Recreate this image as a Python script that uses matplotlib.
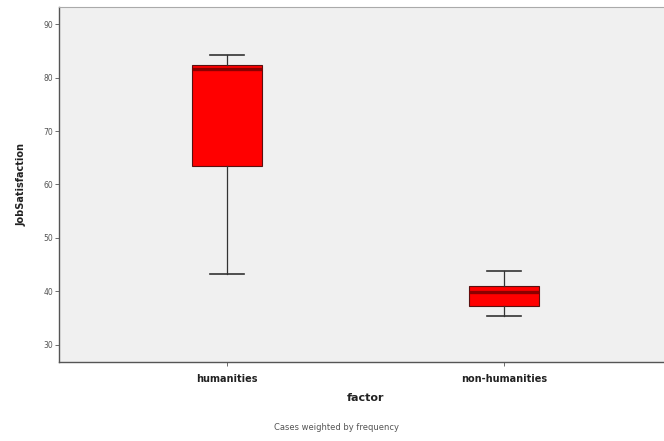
import matplotlib
matplotlib.use("Agg")
import matplotlib.pyplot as plt

# values
categories = ["humanities", "non-humanities"]
whisker_low = [43.3, 35.4]
q1 = [63.4, 37.2]
median = [81.5, 39.9]
q3 = [82.3, 41.0]
whisker_high = [84.2, 43.8]
y_ticks = [30, 40, 50, 60, 70, 80, 90]

fig = plt.figure(figsize=(6.64, 4.41), dpi=100)
# axes runs a little past the right edge, like the original export
ax = fig.add_axes([59 / 664, 79 / 441, 613 / 664, 355 / 441])
ax.set_facecolor("#f0f0f0")

stats = []
for i, name in enumerate(categories):
    stats.append({
        "label": name,
        "whislo": whisker_low[i],
        "q1": q1[i],
        "med": median[i],
        "q3": q3[i],
        "whishi": whisker_high[i],
        "fliers": [],
    })

ax.bxp(
    stats,
    positions=[1, 2],
    widths=0.253,
    capwidths=0.126,
    patch_artist=True,
    showfliers=False,
    boxprops=dict(facecolor="#ff0000", edgecolor="#5a1010", linewidth=0.8),
    medianprops=dict(color="#8b0000", linewidth=2.4),
    whiskerprops=dict(color="#333333", linewidth=0.9),
    capprops=dict(color="#333333", linewidth=1.2),
)

ax.set_xlim(0.3935, 2.6065)
ax.set_ylim(26.82, 93.18)
ax.set_yticks(y_ticks)
ax.set_yticklabels([str(v) for v in y_ticks], fontsize=5.5, color="#555555")
ax.set_xticks([1, 2])
ax.set_xticklabels(categories, fontsize=7, fontweight="bold", color="#222222")
ax.tick_params(axis="both", direction="out", length=3, width=0.6, color="#555555")
ax.tick_params(axis="y", pad=1)
ax.tick_params(axis="x", pad=6)

for side in ["left", "bottom"]:
    ax.spines[side].set_color("#555555")
    ax.spines[side].set_linewidth(1.0)
ax.spines["top"].set_color("#aaaaaa")
ax.spines["right"].set_visible(False)

ax.set_xlabel("factor", fontsize=8, fontweight="bold", color="#222222", labelpad=6)
ax.set_ylabel("JobSatisfaction", fontsize=7, fontweight="bold", color="#222222", labelpad=12)

fig.text(337 / 664, 1 - 427 / 441, "Cases weighted by frequency",
         fontsize=6, color="#555555", ha="center", va="center")

fig.savefig("out.png", dpi=100)
